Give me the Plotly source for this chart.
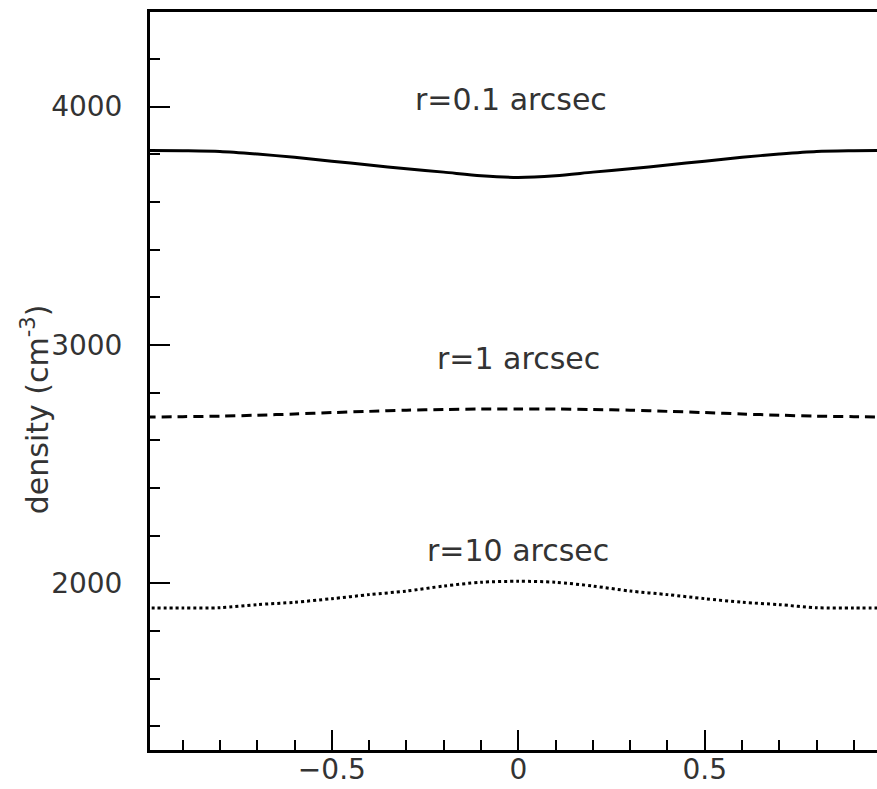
import plotly.graph_objects as go

# x positions (shared by all curves)
x_vals = [-1.0, -0.9, -0.8, -0.7, -0.6, -0.5, -0.4, -0.3, -0.2, -0.1, 0.0,
          0.1, 0.2, 0.3, 0.4, 0.5, 0.6, 0.7, 0.8, 0.9, 1.0]

# density (cm^-3) for each radius
r01_vals = [3816, 3815, 3812, 3801, 3787, 3771, 3755, 3739, 3725, 3710, 3703,
            3710, 3725, 3739, 3755, 3771, 3787, 3801, 3812, 3815, 3816]
r1_vals = [2697, 2699, 2701, 2705, 2710, 2716, 2721, 2726, 2729, 2731, 2731,
           2731, 2729, 2726, 2721, 2716, 2710, 2705, 2701, 2699, 2697]
r10_vals = [1896, 1896, 1897, 1910, 1920, 1935, 1952, 1967, 1988, 2004, 2008,
            2004, 1988, 1967, 1952, 1935, 1920, 1910, 1897, 1896, 1896]

labels = ["r=0.1 arcsec", "r=1 arcsec", "r=10 arcsec"]
label_x = [-0.02, 0.0, 0.0]
label_y = [4028, 2941, 2136]

y_title = "density (cm<sup>-3</sup>)"

FONT = "DejaVu Sans"
TXT = "#333333"

fig = go.Figure()
fig.add_trace(go.Scatter(x=x_vals, y=r01_vals, mode="lines",
                         line=dict(color="black", width=3, dash="solid",
                                   shape="spline", smoothing=0.8),
                         showlegend=False))
fig.add_trace(go.Scatter(x=x_vals, y=r1_vals, mode="lines",
                         line=dict(color="black", width=3, dash="10px,6px",
                                   shape="spline", smoothing=0.8),
                         showlegend=False))
fig.add_trace(go.Scatter(x=x_vals, y=r10_vals, mode="lines",
                         line=dict(color="black", width=3, dash="3px,3px",
                                   shape="spline", smoothing=0.8),
                         showlegend=False))

for t, lx, ly in zip(labels, label_x, label_y):
    fig.add_annotation(x=lx, y=ly, xref="x", yref="y", text=t, showarrow=False,
                       font=dict(family=FONT, size=30, color=TXT),
                       xanchor="center", yanchor="middle")

fig.add_annotation(x=-0.158, y=0.462, xref="paper", yref="paper", text=y_title,
                   showarrow=False, textangle=-90,
                   font=dict(family=FONT, size=30, color=TXT),
                   xanchor="center", yanchor="middle")

fig.update_layout(
    width=877, height=789,
    margin=dict(l=150, r=0, t=12, b=39, autoexpand=False),
    paper_bgcolor="white", plot_bgcolor="white",
    font=dict(family=FONT, size=28, color=TXT),
)
fig.update_xaxes(
    range=[-0.9877, 0.962], showgrid=False, zeroline=False, automargin=False,
    showline=True, linecolor="black", linewidth=3, mirror=True,
    ticks="inside", ticklen=20, tickwidth=2, tickcolor="black",
    tickvals=[-0.5, 0, 0.5], ticktext=["\u22120.5", "0", "0.5"],
    tickfont=dict(family=FONT, size=28, color=TXT), ticklabelstandoff=-8,
    minor=dict(ticks="inside", ticklen=10, tickwidth=2, tickcolor="black",
               dtick=0.1, tick0=0, showgrid=False),
)
fig.update_yaxes(
    range=[1300, 4397], showgrid=False, zeroline=False, automargin=False,
    showline=True, linecolor="black", linewidth=3, mirror=False,
    ticks="inside", ticklen=20, tickwidth=2, tickcolor="black",
    tickvals=[2000, 3000, 4000], ticktext=["2000", "3000", "4000"],
    tickfont=dict(family=FONT, size=28, color=TXT), ticklabelstandoff=19,
    minor=dict(ticks="inside", ticklen=10, tickwidth=2, tickcolor="black",
               dtick=200, tick0=0, showgrid=False),
)

fig.write_html("out.html")
